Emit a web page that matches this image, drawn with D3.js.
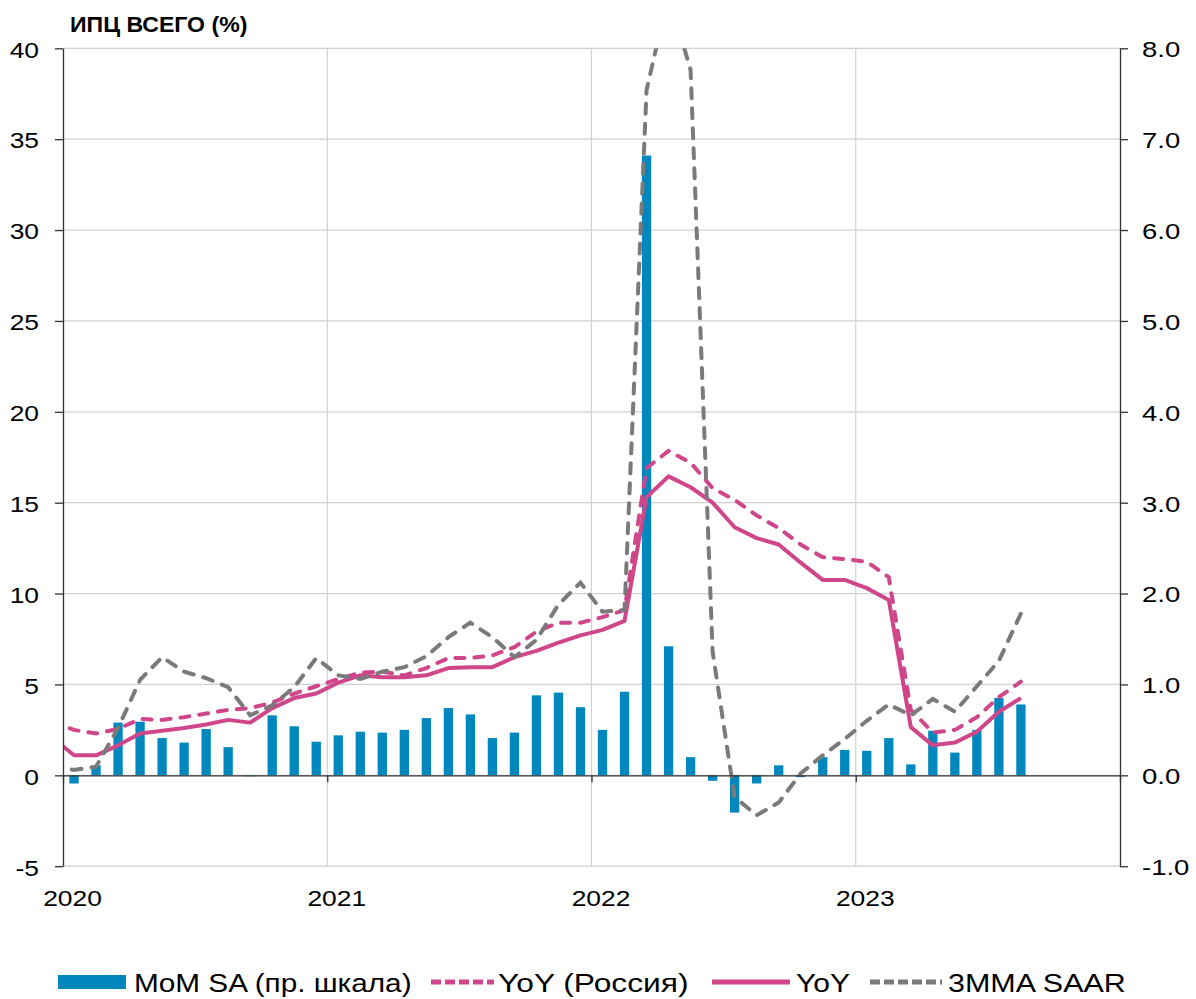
<!DOCTYPE html>
<html>
<head>
<meta charset="utf-8">
<script src="https://cdn.jsdelivr.net/npm/d3@7"></script>
<style>
  body { margin: 0; background: #fff; }
  svg { font-family: "Liberation Sans", Arial, sans-serif; }
</style>
</head>
<body>
<div id="chart"></div>
<script>
// months from Dec 2019 to Aug 2023 (Dec 2019 sits left of the axis and is clipped)
var months = d3.timeMonth.range(new Date(2019, 11, 1), new Date(2023, 8, 1));
var years = [2020, 2021, 2022, 2023];
var leftTicks = [-5, 0, 5, 10, 15, 20, 25, 30, 35, 40];
var rightTicks = [-1, 0, 1, 2, 3, 4, 5, 6, 7, 8];

// MoM SA, right scale
var momSA = [null,
  -0.09, 0.11, 0.58, 0.59, 0.41, 0.36, 0.51, 0.31, -0.01, 0.66, 0.54, 0.37,
  0.44, 0.48, 0.47, 0.50, 0.63, 0.74, 0.67, 0.41, 0.47, 0.88, 0.91, 0.75,
  0.50, 0.92, 6.82, 1.42, 0.20, -0.06, -0.41, -0.09, 0.11, -0.02, 0.20, 0.28,
  0.27, 0.41, 0.12, 0.49, 0.25, 0.50, 0.85, 0.78];

// YoY (Россия), left scale
var yoyRussia = [2.95,
  2.5, 2.3, 2.55, 3.1, 3.05, 3.2, 3.4, 3.6, 3.7, 4.0, 4.5, 4.9,
  5.3, 5.65, 5.7, 5.5, 5.9, 6.45, 6.45, 6.6, 7.05, 7.9, 8.4, 8.4,
  8.7, 9.1, 16.9, 17.85, 17.2, 15.8, 15.15, 14.3, 13.6, 12.7, 12.0, 11.9,
  11.75, 10.9, 3.6, 2.35, 2.5, 3.2, 4.3, 5.15];

// YoY, left scale
var yoy = [2.1,
  1.1, 1.1, 1.65, 2.3, 2.45, 2.6, 2.8, 3.05, 2.9, 3.7, 4.25, 4.5,
  5.1, 5.5, 5.4, 5.4, 5.5, 5.9, 5.95, 5.95, 6.5, 6.85, 7.3, 7.7,
  8.0, 8.5, 15.3, 16.45, 15.85, 15.0, 13.65, 13.05, 12.7, 11.7, 10.75, 10.75,
  10.3, 9.65, 2.65, 1.65, 1.8, 2.4, 3.5, 4.25];

// 3MMA SAAR, left scale
var saar = [0.5,
  0.3, 0.47, 2.6, 5.25, 6.5, 5.7, 5.35, 4.85, 3.3, 3.85, 4.85, 6.45,
  5.5, 5.3, 5.7, 5.95, 6.55, 7.6, 8.4, 7.6, 6.5, 7.45, 9.4, 10.6,
  9.0, 9.1, 37.7, 43.0, 38.8, 6.8, -1.2, -2.2, -1.5, 0.1, 1.1, 2.0,
  3.0, 3.9, 3.3, 4.2, 3.5, 4.9, 6.3, 8.9];

var blue = "#0087bd", pink = "#d0468a", grey = "#7a7a7a";

var W = 1196, H = 999;
var plotL = 63, plotR = 1120, plotT = 48.3, plotB = 866.2;

var svg = d3.select("#chart").append("svg").attr("width", W).attr("height", H);

// month index, 0 = Jan 2020
function mIndex(d) { return (d.getFullYear() - 2020) * 12 + d.getMonth(); }

var x = d3.scaleLinear().domain([0, 48]).range([plotL, plotR]);
var yL = d3.scaleLinear().domain([-5, 40]).range([plotB, plotT]);
var yR = d3.scaleLinear().domain([-1, 8]).range([plotB, plotT]);

// stretch text horizontally about its anchor
function stretch(sel, k) {
  sel.each(function() {
    var t = d3.select(this), x0 = +t.attr("x") || 0;
    t.attr("transform", "translate(" + (x0 * (1 - k)) + ",0) scale(" + k + ",1)");
  });
}

svg.append("defs").append("clipPath").attr("id", "plot")
  .append("rect").attr("x", plotL).attr("y", plotT)
  .attr("width", plotR - plotL).attr("height", plotB - plotT);

// gridlines
svg.append("g").selectAll("line").data(leftTicks).enter().append("line")
  .attr("x1", plotL).attr("x2", plotR)
  .attr("y1", function(d) { return yL(d); }).attr("y2", function(d) { return yL(d); })
  .attr("stroke", "#d0d0d0").attr("stroke-width", 1.2);
svg.append("g").selectAll("line").data([12, 24, 36]).enter().append("line")
  .attr("x1", function(d) { return x(d); }).attr("x2", function(d) { return x(d); })
  .attr("y1", plotT).attr("y2", plotB)
  .attr("stroke", "#d0d0d0").attr("stroke-width", 1.2);

var series = months.map(function(d, i) {
  return { m: mIndex(d), mom: momSA[i], ru: yoyRussia[i], yoy: yoy[i], saar: saar[i] };
});

// bars
var barW = 9.3;
svg.append("g").attr("clip-path", "url(#plot)")
  .selectAll("rect")
  .data(series.filter(function(d) { return d.mom != null; }))
  .enter().append("rect")
    .attr("x", function(d) { return x(d.m + 0.5) - barW / 2; })
    .attr("width", barW)
    .attr("y", function(d) { return Math.min(yR(d.mom), yR(0)); })
    .attr("height", function(d) { return Math.abs(yR(d.mom) - yR(0)); })
    .attr("fill", blue);

function lineOf(key) {
  return d3.line()
    .x(function(d) { return x(d.m + 0.5); })
    .y(function(d) { return yL(d[key]); })(series);
}

var lines = svg.append("g").attr("clip-path", "url(#plot)");
lines.append("path").attr("d", lineOf("ru"))
  .attr("fill", "none").attr("stroke", pink).attr("stroke-width", 4)
  .attr("stroke-dasharray", "9,10").attr("stroke-linecap", "round");
lines.append("path").attr("d", lineOf("yoy"))
  .attr("fill", "none").attr("stroke", pink).attr("stroke-width", 4)
  .attr("stroke-linejoin", "round");
lines.append("path").attr("d", lineOf("saar"))
  .attr("fill", "none").attr("stroke", grey).attr("stroke-width", 4)
  .attr("stroke-dasharray", "10,10").attr("stroke-linecap", "round");

// axes
function styleAxis(g) {
  g.attr("font-size", 22).attr("font-family", null);
  g.selectAll(".domain, .tick line").attr("stroke", "#333").attr("stroke-width", 1.3);
  g.selectAll("text").attr("fill", "#000");
}

var yAxisL = svg.append("g").attr("transform", "translate(" + plotL + ",0)")
  .call(d3.axisLeft(yL).tickValues(leftTicks).tickSize(8).tickSizeOuter(0).tickPadding(16)
    .tickFormat(function(d) { return String(d); }))
  .call(styleAxis);
yAxisL.selectAll("text").attr("dy", "0.4em").call(stretch, 1.2);

var yAxisR = svg.append("g").attr("transform", "translate(" + plotR + ",0)")
  .call(d3.axisRight(yR).tickValues(rightTicks).tickSize(8).tickSizeOuter(0).tickPadding(14)
    .tickFormat(function(d) { return d.toFixed(1); }))
  .call(styleAxis);
yAxisR.selectAll("text").attr("dy", "0.38em").call(stretch, 1.25);

svg.append("g").attr("transform", "translate(0," + yL(0) + ")")
  .call(d3.axisBottom(x).tickValues([0, 12, 24, 36, 48]).tickSize(7).tickSizeOuter(0)
    .tickFormat(""))
  .call(styleAxis);

var xLabels = svg.append("g").attr("transform", "translate(9," + plotB + ")")
  .call(d3.axisBottom(x).tickValues(years.map(function(y) { return (y - 2020) * 12; }))
    .tickSize(0).tickPadding(24)
    .tickFormat(function(d) { return String(2020 + d / 12); }))
  .call(styleAxis);
xLabels.select(".domain").remove();
xLabels.selectAll("text").call(stretch, 1.2);

// title
svg.append("text").attr("x", 70).attr("y", 32)
  .attr("font-size", 22).attr("font-weight", "bold")
  .text("ИПЦ ВСЕГО (%)").call(stretch, 1.05);

// legend
var ly = 982, lb = 992;
var leg = svg.append("g").attr("font-size", 25);
leg.append("rect").attr("x", 58).attr("y", 975).attr("width", 68).attr("height", 14).attr("fill", blue);
leg.append("text").attr("x", 134).attr("y", lb).text("MoM SA (пр. шкала)").call(stretch, 1.19);
leg.append("line").attr("x1", 431).attr("x2", 494).attr("y1", ly).attr("y2", ly)
  .attr("stroke", pink).attr("stroke-width", 5).attr("stroke-dasharray", "10,4");
leg.append("text").attr("x", 498).attr("y", lb).text("YoY (Россия)").call(stretch, 1.27);
leg.append("line").attr("x1", 712).attr("x2", 790).attr("y1", ly).attr("y2", ly)
  .attr("stroke", pink).attr("stroke-width", 5);
leg.append("text").attr("x", 796).attr("y", lb).text("YoY").call(stretch, 1.2);
leg.append("line").attr("x1", 870).attr("x2", 942).attr("y1", ly).attr("y2", ly)
  .attr("stroke", grey).attr("stroke-width", 5).attr("stroke-dasharray", "10,4");
leg.append("text").attr("x", 948).attr("y", lb).text("3MMA SAAR").call(stretch, 1.22);
</script>
</body>
</html>
